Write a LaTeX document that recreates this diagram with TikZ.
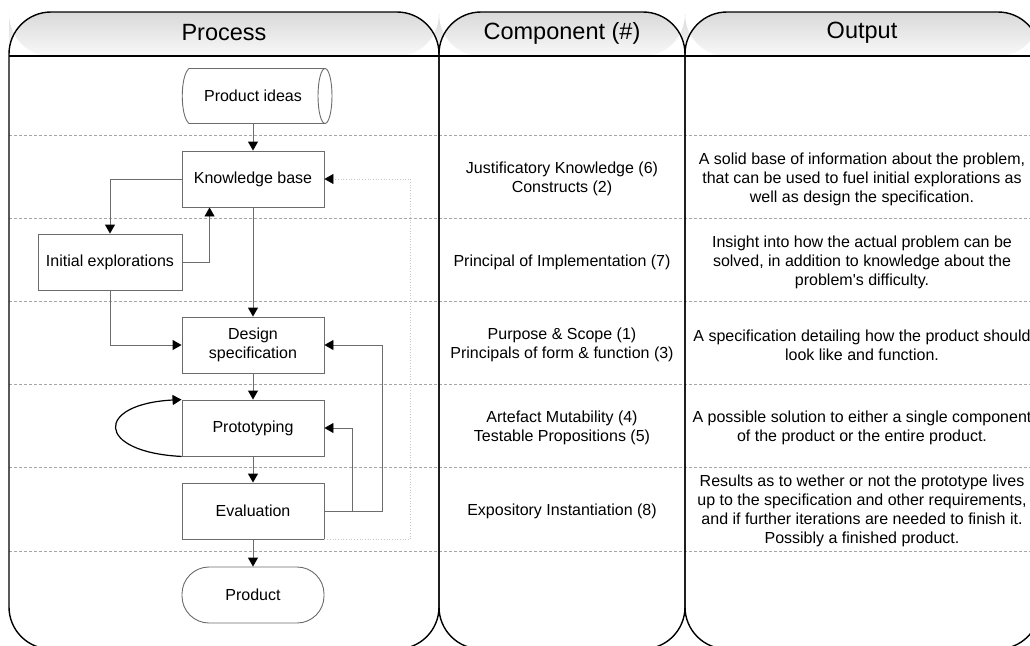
\documentclass[tikz,border=0pt]{standalone}
\usepackage{fontspec}
\setmainfont{Liberation Sans}
\usetikzlibrary{arrows.meta}
\begin{document}
\begin{tikzpicture}[x=1pt,y=-1pt,
  txt/.style={font=\fontsize{16}{19}\selectfont, align=center, inner sep=0pt},
  hdr/.style={font=\fontsize{23.5}{26}\selectfont, inner sep=0pt},
  box/.style={draw=gray!85!black, line width=0.9pt, fill=white, minimum width=142pt, minimum height=56pt, font=\fontsize{16}{19}\selectfont, align=center, inner sep=2pt},
  conn/.style={draw=gray!85!black, line width=0.9pt, -{Triangle[length=9pt,width=10pt,black]}},
  fbk/.style={draw=gray!45, line width=0.7pt, dotted, -{Triangle[length=9pt,width=10pt,black]}},
  loop/.style={draw=black, line width=1.2pt, -{Triangle[length=9pt,width=10pt,black]}},
  rowline/.style={draw=gray!70, line width=0.7pt, dash pattern=on 3pt off 2pt},
  lane/.style={draw=black, line width=1.4pt, rounded corners=42pt},
]
\useasboundingbox (0,0) rectangle (1030,645);
\clip (0,0) rectangle (1030,645);
\fill[white] (0,0) rectangle (1030,645);

% header shading
\foreach \xa/\xb in {9/439,439/685,685/1040}{
  \shade[top color=gray!30, bottom color=gray!5, rounded corners=42pt]
    (\xa,56) -- (\xa,12) -- (\xb,12) -- (\xb,56) -- cycle;
}
% row separators
\foreach \yy in {135,218,301,384,467,551}{
  \draw[rowline] (9,\yy) -- (1030,\yy);
}
% lanes
\foreach \xa/\xb in {9/439,439/685,685/1040}{
  \draw[lane] (\xa,12) rectangle (\xb,649);
}
\draw[black, line width=1.4pt] (9,56) -- (1040,56);

% headers
\node[hdr] (h1) at (224,33) {Process};
\node[hdr] (h2) at (562,33) {Component (\#)};
\node[hdr] (h3) at (862,33) {Output};

% process nodes
\node[minimum width=142pt, minimum height=55pt, inner sep=0pt] (pi) at (253,96) {};
\draw[draw=gray!85!black, line width=0.9pt] (325,96) ellipse [x radius=7, y radius=27.5];
\draw[draw=gray!85!black, line width=0.9pt] (325,68.5) -- (189,68.5) .. controls (180,76) and (180,116) .. (189,123.5) -- (325,123.5);
\node[txt] (pit) at (253,96) {Product ideas};

\node[box] (kb) at (253,179) {Knowledge base};
\node[box, minimum width=144pt] (ie) at (110,262) {Initial explorations};
\node[box] (ds) at (253,345) {Design\\specification};
\node[box] (pr) at (253,428) {Prototyping};
\node[box] (ev) at (253,511) {Evaluation};
\node[box, rounded corners=27pt] (prod) at (253,595) {Product};

% connectors
\draw[conn] (pi.south) -- (kb.north);
\draw[conn] (kb.west) -| (ie.north);
\draw[conn] (ie.east) -| ([xshift=28pt]kb.south west);
\draw[conn] (kb.south) -- (ds.north);
\draw[conn] (ie.south) |- (ds.west);
\draw[conn] (ds.south) -- (pr.north);
\draw[conn] (pr.south) -- (ev.north);
\draw[conn] (ev.south) -- (prod.north);
\draw[conn] (ev.east) -- ++(58,0) |- (ds.east);
\draw[conn] (ev.east) -- ++(28,0) |- (pr.east);
\draw[fbk] (ev.south east) -- ++(86,0) |- (kb.east);
\draw[loop] (pr.south west) .. controls (95,452) and (95,404) .. (pr.north west);

% component column
\node[txt] (c1) at (562,179) {Justificatory Knowledge (6)\\Constructs (2)};
\node[txt] (c2) at (562,262) {Principal of Implementation (7)};
\node[txt] (c3) at (562,345) {Purpose \& Scope (1)\\Principals of form \& function (3)};
\node[txt] (c4) at (562,428) {Artefact Mutability (4)\\Testable Propositions (5)};
\node[txt] (c5) at (562,511) {Expository Instantiation (8)};

% output column
\node[txt] (o1) at (862,179) {A solid base of information about the problem,\\that can be used to fuel initial explorations as\\well as design the specification.};
\node[txt] (o2) at (862,262) {Insight into how the actual problem can be\\solved, in addition to knowledge about the\\problem\textquotesingle s difficulty.};
\node[txt] (o3) at (862,345) {A specification detailing how the product should\\look like and function.};
\node[txt] (o4) at (862,428) {A possible solution to either a single component\\of the product or the entire product.};
\node[txt] (o5) at (862,511) {Results as to wether or not the prototype lives\\up to the specification and other requirements,\\and if further iterations are needed to finish it.\\Possibly a finished product.};
\end{tikzpicture}
\end{document}
